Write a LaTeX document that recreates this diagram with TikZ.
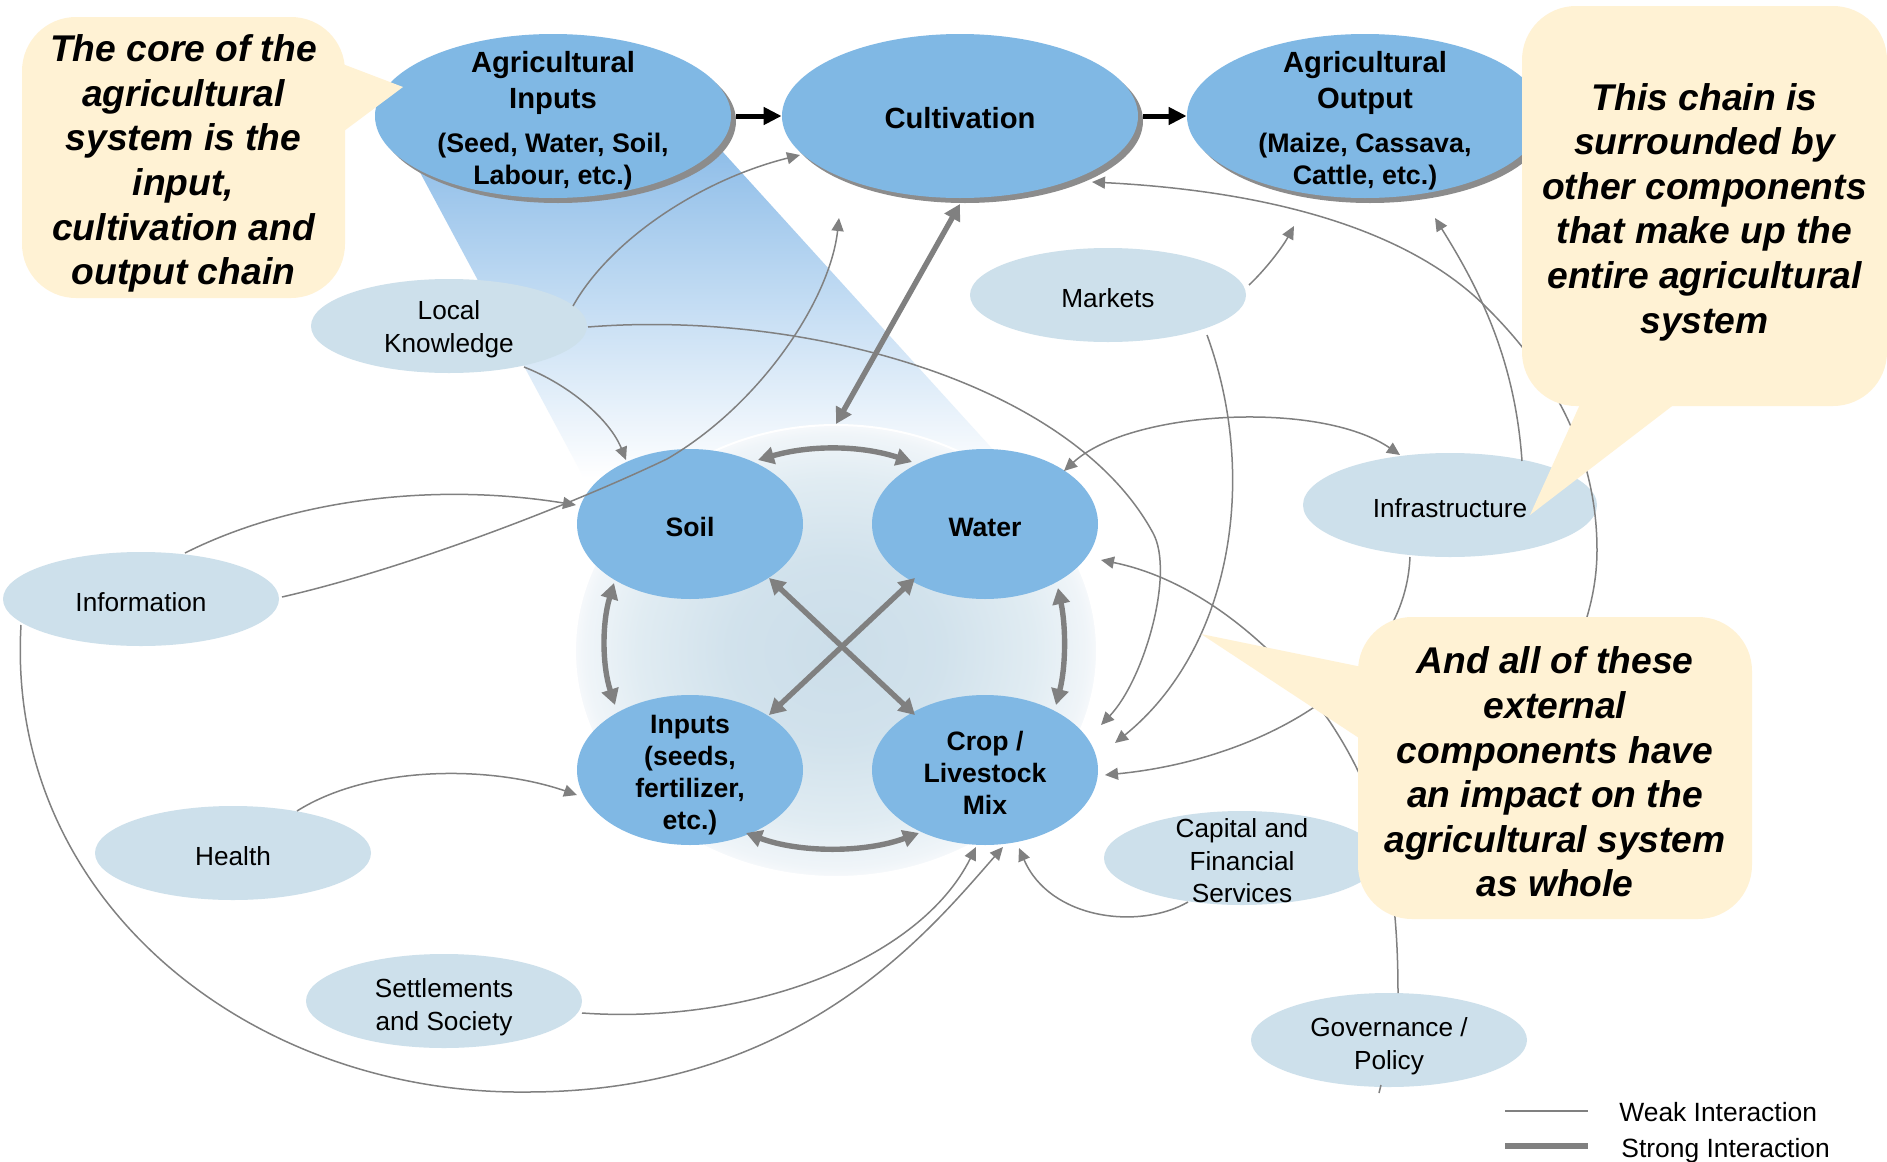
\documentclass[tikz,border=0pt]{standalone}
\usepackage{fontspec}
\setmainfont{Liberation Sans}
\usetikzlibrary{arrows.meta,calc,shapes.geometric,shadows}
\definecolor{coreblue}{RGB}{128,184,228}
\definecolor{extblue}{RGB}{205,224,235}
\definecolor{callfill}{RGB}{255,242,212}
\definecolor{linegray}{RGB}{128,128,128}
\definecolor{beamblue}{RGB}{140,188,232}
\pgfdeclareradialshading{coreglow}{\pgfpoint{0bp}{0bp}}{rgb(0bp)=(0.80,0.87,0.915); rgb(10bp)=(0.82,0.885,0.925); rgb(19bp)=(0.88,0.925,0.95); rgb(24bp)=(0.94,0.96,0.975); rgb(25bp)=(0.965,0.975,0.985); rgb(50bp)=(0.965,0.975,0.985)}
\tikzset{
  coreell/.style={ellipse, fill=coreblue, inner sep=0pt, minimum width=178pt, minimum height=82pt,
    drop shadow={shadow xshift=2.5pt, shadow yshift=-2.5pt, fill=black!45, opacity=1}},
  clus/.style={ellipse, fill=coreblue, inner sep=0pt, minimum width=113pt, minimum height=75pt},
  ext/.style={ellipse, fill=extblue, inner sep=0pt, minimum width=138pt, minimum height=47pt},
  exttext/.style={inner sep=0pt, align=center, yshift=-1.5pt, font=\fontsize{13.1}{16.25}\selectfont},
  clustext/.style={inner sep=0pt, align=center, yshift=-1.5pt, font=\fontsize{13.3}{16}\selectfont\bfseries},
  coretitle/.style={inner sep=0pt, align=center, yshift=-1.2pt, font=\fontsize{14.6}{18}\selectfont\bfseries},
  coresub/.style={inner sep=0pt, align=center, yshift=-1.2pt, font=\fontsize{13.4}{15.75}\selectfont\bfseries},
  callbox/.style={rectangle, rounded corners=27pt, fill=callfill, inner sep=0pt},
  calltext/.style={inner sep=0pt, align=center, font=\fontsize{18.6}{22.3}\selectfont\bfseries\itshape},
  weak/.style={draw=linegray, line width=0.75pt, -{Triangle[length=6.5pt,width=6pt]}},
  weakboth/.style={draw=linegray, line width=0.75pt, {Triangle[length=6.5pt,width=6pt]}-{Triangle[length=6.5pt,width=6pt]}},
  weakline/.style={draw=linegray, line width=0.75pt},
  strong/.style={draw=linegray, line width=2.7pt, {Triangle[length=8pt,width=8.5pt]}-{Triangle[length=8pt,width=8.5pt]}},
  blk/.style={draw=black, line width=2.5pt, -{Triangle[length=9pt,width=8.5pt]}},
  legtext/.style={inner sep=0pt, font=\fontsize{13.2}{16}\selectfont},
}
\begin{document}
\begin{tikzpicture}[x=0.5pt, y=-0.5pt]
\useasboundingbox (0,0) rectangle (1887,1162);
\fill[white] (0,0) rectangle (1887,1162);

% beam from agricultural inputs to the core system
\shade[top color=beamblue, bottom color=white] (408,150) -- (712,140) -- (1007,465) -- (584,478) -- cycle;

% background of the core system
\node[ellipse, inner sep=0pt, minimum width=261pt, minimum height=226pt, shade, shading=coreglow, draw=white, line width=1pt] (coreBg) at (836,651) {};

% chain
\node[coreell] (ain) at (553,116) {};
\node[coretitle] (ainT) at ($(ain)+(0,-35)$) {Agricultural\\Inputs};
\node[coresub] (ainS) at ($(ain)+(0,43)$) {(Seed, Water, Soil,\\Labour, etc.)};
\node[coreell] (cult) at (960,116) {};
\node[coretitle] (cultT) at ($(cult)+(0,0)$) {Cultivation};
\node[coreell] (aout) at (1365,116) {};
\node[coretitle] (aoutT) at ($(aout)+(0,-35)$) {Agricultural\\Output};
\node[coresub] (aoutS) at ($(aout)+(0,43)$) {(Maize, Cassava,\\Cattle, etc.)};

% cluster
\node[clus] (soil) at (690,524) {};
\node[clustext] (soilT) at (soil) {Soil};
\node[clus] (water) at (985,524) {};
\node[clustext] (waterT) at (water) {Water};
\node[clus] (inputs) at (690,770) {};
\node[clustext] (inputsT) at ($(inputs)+(0,2)$) {Inputs\\(seeds,\\fertilizer,\\etc.)};
\node[clus] (crop) at (985,770) {};
\node[clustext] (cropT) at ($(crop)+(0,0)$) {Crop /\\Livestock\\Mix};

% external components
\node[ext] (lk) at (449,326) {};
\node[exttext] (lkT) at (lk) {Local\\Knowledge};
\node[ext] (markets) at (1108,295) {};
\node[exttext] (marketsT) at (markets) {Markets};
\node[ext] (info) at (141,599) {};
\node[exttext] (infoT) at (info) {Information};
\node[ext, minimum width=147pt, minimum height=52pt] (infra) at (1450,505) {};
\node[exttext] (infraT) at (infra) {Infrastructure};
\node[ext] (health) at (233,853) {};
\node[exttext] (healthT) at (health) {Health};
\node[ext] (settle) at (444,1001) {};
\node[exttext] (settleT) at ($(settle)+(0,3)$) {Settlements\\and Society};
\node[ext] (capital) at (1242,858) {};
\node[exttext] (capitalT) at ($(capital)+(0,0)$) {Capital and\\Financial\\Services};
\node[ext] (gov) at (1389,1040) {};
\node[exttext] (govT) at ($(gov)+(0,3)$) {Governance /\\Policy};

% weak interactions
\draw[weak] ($(lk)+(124,-20)$) .. controls (610,240) and (700,180) .. ($(cult)+(-160,39)$);
\draw[weak] ($(lk)+(75,41)$) .. controls (570,385) and (610,420) .. ($(soil)+(-64,-64)$);
\draw[weak] ($(lk)+(139,1)$) .. controls (800,310) and (1070,380) .. (1153,533) .. controls (1175,573) and (1144,680) .. ($(crop)+(116,-45)$);
\draw[weak] ($(info)+(44,-46)$) .. controls (280,505) and (420,480) .. ($(soil)+(-114,-19)$);
\draw[weak] ($(info)+(141,-2)$) .. controls (400,570) and (560,510) .. (667,459) .. controls (760,405) and (830,300) .. ($(cult)+(-121,102)$);
\draw[weak] ($(info)+(-120,26)$) .. controls (5,900) and (250,1095) .. (527,1092) .. controls (800,1092) and (930,930) .. ($(crop)+(18,77)$);
\draw[weak] ($(health)+(64,-42)$) .. controls (370,765) and (490,765) .. ($(inputs)+(-113,25)$);
\draw[weak] ($(settle)+(138,12)$) .. controls (750,1025) and (920,960) .. ($(crop)+(-9,77)$);
\draw[weak] ($(markets)+(141,-10)$) .. controls (1265,270) and (1282,248) .. ($(aout)+(-71,110)$);
\draw[weak] ($(markets)+(99,40)$) .. controls (1260,480) and (1230,650) .. ($(crop)+(130,-27)$);
\draw[weakboth] ($(water)+(79,-53)$) .. controls (1130,410) and (1320,400) .. ($(infra)+(-50,-50)$);
\draw[weak] ($(infra)+(72,-44)$) .. controls (1515,360) and (1480,290) .. ($(aout)+(70,102)$);
\draw[weak] ($(infra)+(-40,52)$) .. controls (1405,680) and (1260,760) .. ($(crop)+(120,5)$);
\draw[weak] ($(gov)+(9,-47)$) .. controls (1398,860) and (1375,790) .. (1330,722) .. controls (1280,650) and (1200,580) .. ($(water)+(116,36)$);
\draw[weakline] ($(gov)+(-8,45)$) -- ($(gov)+(-10,53)$);
\draw[weak] ($(capital)+(-54,44)$) .. controls (1140,930) and (1050,920) .. ($(crop)+(34,78)$);
\draw[weak] ($(capital)+(136,-8)$) .. controls (1480,800) and (1597,680) .. (1597,550) .. controls (1597,440) and (1540,360) .. (1485,306) .. controls (1400,222) and (1250,190) .. ($(cult)+(132,66)$);

% strong interactions
\draw[strong] ($(cult)+(0,88)$) -- (coreBg.north);
\draw[strong] ($(soil)+(68,-64)$) .. controls (810,445) and (860,445) .. ($(water)+(-73,-62)$);
\draw[strong] ($(soil)+(-76,59)$) .. controls (602,623) and (602,665) .. ($(inputs)+(-75,-65)$);
\draw[strong] ($(water)+(73,64)$) .. controls (1066,627) and (1066,666) .. ($(crop)+(71,-65)$);
\draw[strong] ($(inputs)+(56,63)$) .. controls (800,853) and (865,853) .. ($(crop)+(-66,63)$);
\draw[strong] ($(soil)+(79,54)$) -- ($(crop)+(-70,-55)$);
\draw[strong] ($(water)+(-70,54)$) -- ($(inputs)+(79,-55)$);

% chain arrows
\draw[blk] ($(ain.east)+(5,0)$) -- (cult.west);
\draw[blk] ($(cult.east)+(5,0)$) -- (aout.west);

% callouts
\fill[callfill] (340,63) -- (403,87) -- (340,134) -- cycle;
\node[callbox, minimum width=161.5pt, minimum height=140.5pt] (call1) at (183.5,157.5) {};
\node[calltext] (call1T) at ($(call1)+(0,6)$)
  {The core of the\\agricultural\\system is the\\input,\\cultivation and\\output chain};
\fill[callfill] (1582,400) -- (1530,515) -- (1680,400) -- cycle;
\node[callbox, minimum width=182.5pt, minimum height=200pt] (call2) at (1704.5,206) {};
\node[calltext] (call2T) at ($(call2)+(0,6)$)
  {This chain is\\surrounded by\\other components\\that make up the\\entire agricultural\\system};
\fill[callfill] (1362,667) -- (1201,634) -- (1362,740) -- cycle;
\node[callbox, minimum width=197pt, minimum height=151pt] (call3) at (1555,768) {};
\node[calltext] (call3T) at ($(call3)+(0,4)$)
  {And all of these\\external\\components have\\an impact on the\\agricultural system\\as whole};

% legend
\coordinate (lw1) at (1505,1111);
\coordinate (lw2) at (1588,1111);
\coordinate (ls1) at (1505,1146);
\coordinate (ls2) at (1588,1146);
\draw[weakline, line width=1pt] (lw1) -- (lw2);
\draw[draw=linegray, line width=3.4pt] (ls1) -- (ls2);
\node[legtext, anchor=base west] (legW) at (1619,1121) {Weak Interaction};
\node[legtext, anchor=base west] (legS) at (1621,1157) {Strong Interaction};
\end{tikzpicture}
\end{document}
